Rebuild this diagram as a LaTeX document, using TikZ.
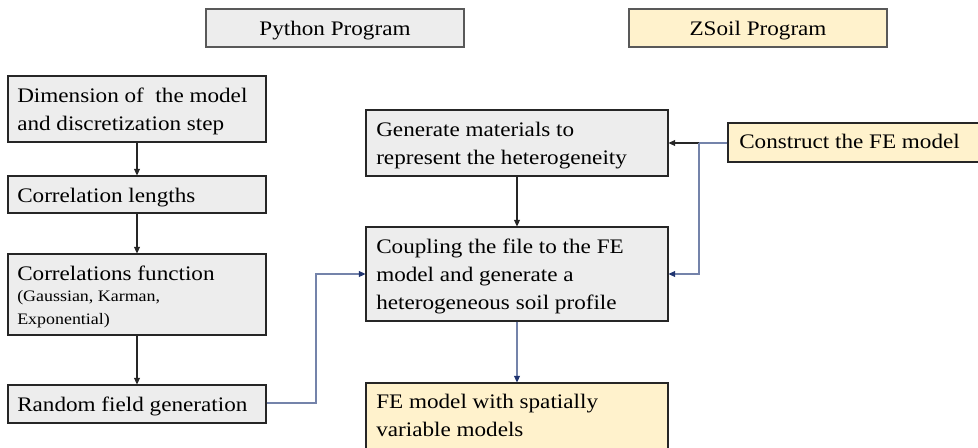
\documentclass[tikz,border=0pt]{standalone}
\usepackage{fontspec}
\setmainfont{Liberation Serif}[FakeStretch=1.12]
\usetikzlibrary{arrows.meta,fit,calc}
\definecolor{gfill}{HTML}{EDEDED}
\definecolor{yfill}{HTML}{FFF2CC}
\definecolor{navy}{HTML}{1F3470}
\definecolor{bline}{HTML}{7483AA}
\definecolor{hdraw}{HTML}{595959}
\begin{document}
\begin{tikzpicture}[x=0.75pt,y=-0.75pt,
  box/.style={draw=black!85, line width=0.8pt, inner sep=0pt},
  gbox/.style={box, fill=gfill},
  ybox/.style={box, fill=yfill},
  hbox/.style={draw=hdraw, line width=1.1pt, inner sep=0pt},
  txt/.style={inner sep=0pt, font=\fontsize{15.5}{21}\selectfont, align=left},
  stxt/.style={inner sep=0pt, font=\fontsize{12}{17}\selectfont, align=left},
  karrow/.style={draw=black!85, line width=0.8pt, -{Triangle[length=5pt,width=4.5pt]}},
  barrow/.style={draw=bline, line width=0.8pt, -{Triangle[length=5pt,width=4.5pt,color=navy,fill=navy]}},
  bline/.style={draw=bline, line width=0.8pt},
  kline/.style={draw=black!85, line width=0.8pt}]
\useasboundingbox (0,0) rectangle (978,447);
\clip (0,0) rectangle (978,447);

% headers
\node[hbox, fill=gfill, fit={(206,9) (464,47)}] (py) {};
\node[txt, anchor=base] (pyt) at (335,35) {Python Program};
\node[hbox, fill=yfill, fit={(629,9) (887,47)}] (zs) {};
\node[txt, anchor=base] (zst) at (758,35) {ZSoil Program};

% left column
\node[gbox, fit={(8,76) (266,142)}] (dim) {};
\node[txt, anchor=base west] (dimt) at (17,102) {Dimension of \ the model};
\node[txt, anchor=base west] (dimt2) at (17,130) {and discretization step};

\node[gbox, fit={(8,176) (266,213)}] (corl) {};
\node[txt, anchor=base west] (corlt) at (17,202) {Correlation lengths};

\node[gbox, fit={(8,254) (266,335)}] (corf) {};
\node[txt, anchor=base west] (corft) at (17,280) {Correlations function};
\node[stxt, anchor=base west] (corfs) at (17,301.5) {(Gaussian, Karman,};
\node[stxt, anchor=base west] (corfs2) at (17,324.5) {Exponential)};

\node[gbox, fit={(8,385) (266,423)}] (rfg) {};
\node[txt, anchor=base west] (rfgt) at (17,411) {Random field generation};

% middle column
\node[gbox, fit={(366,110) (668,176)}] (gen) {};
\node[txt, anchor=base west] (gent) at (376,136) {Generate materials to};
\node[txt, anchor=base west] (gent2) at (376,164) {represent the heterogeneity};

\node[gbox, fit={(366,227) (668,321)}] (cpl) {};
\node[txt, anchor=base west] (cplt) at (376,253) {Coupling the file to the FE};
\node[txt, anchor=base west] (cplt2) at (376,281) {model and generate a};
\node[txt, anchor=base west] (cplt3) at (376,309) {heterogeneous soil profile};

\node[ybox, fit={(366,383) (668,470)}] (fem) {};
\node[txt, anchor=base west] (femt) at (376,408) {FE model with spatially};
\node[txt, anchor=base west] (femt2) at (376,436) {variable models};

% right
\node[ybox, fit={(728,123) (985,162)}] (con) {};
\node[txt, anchor=base west] (cont) at (739,148.5) {Construct the FE model};

% connectors
\draw[karrow] (dim.south -| 137,0) -- (corl.north -| 137,0);
\draw[karrow] (corl.south -| 137,0) -- (corf.north -| 137,0);
\draw[karrow] (corf.south -| 137,0) -- (rfg.north -| 137,0);
\draw[karrow] (gen.south -| 517,0) -- (cpl.north -| 517,0);
\draw[barrow] (cpl.south -| 517,0) -- (fem.north -| 517,0);

\coordinate (c1) at (316,403);
\coordinate (c2) at (316,274);
\draw[barrow] (rfg.east |- c1) -- (c1) -- (c2) -- (cpl.west |- c2);

\coordinate (br) at (699,143);
\coordinate (br2) at (699,274);
\draw[bline] (con.west |- br) -- (br);
\draw[karrow] (br) -- (gen.east |- br);
\draw[barrow] (br) -- (br2) -- (cpl.east |- br2);
\end{tikzpicture}
\end{document}
